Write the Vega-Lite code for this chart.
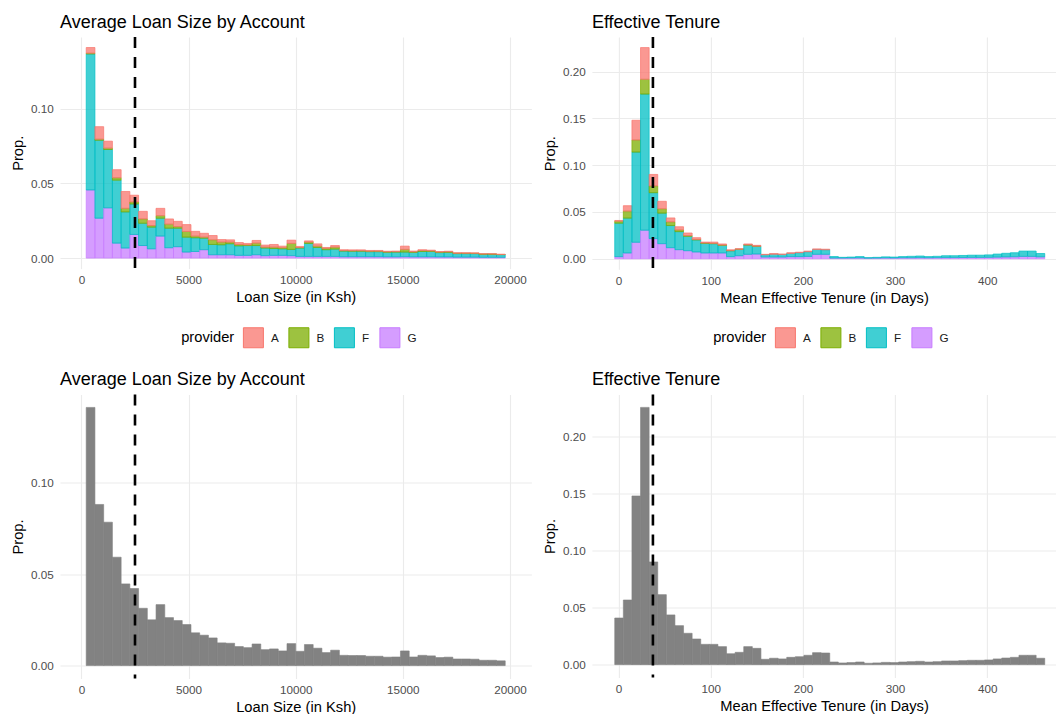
{
  "$schema": "https://vega.github.io/schema/vega-lite/v6.json",
  "padding": {"left": 10, "top": 13, "right": 0, "bottom": 0},
  "background": "white",
  "datasets": {
    "loan": [
      {"lo":200,"hi":607,"provider":"G","prop":0.0456},{"lo":200,"hi":607,"provider":"F","prop":0.0911},{"lo":200,"hi":607,"provider":"B","prop":0.0005},{"lo":200,"hi":607,"provider":"A","prop":0.0038},
      {"lo":607,"hi":1015,"provider":"G","prop":0.0267},{"lo":607,"hi":1015,"provider":"F","prop":0.0522},{"lo":607,"hi":1015,"provider":"B","prop":0.0007},{"lo":607,"hi":1015,"provider":"A","prop":0.0084},
      {"lo":1015,"hi":1422,"provider":"G","prop":0.0336},{"lo":1015,"hi":1422,"provider":"F","prop":0.0391},{"lo":1015,"hi":1422,"provider":"B","prop":0.0009},{"lo":1015,"hi":1422,"provider":"A","prop":0.0047},
      {"lo":1422,"hi":1830,"provider":"G","prop":0.0100},{"lo":1422,"hi":1830,"provider":"F","prop":0.0422},{"lo":1422,"hi":1830,"provider":"B","prop":0.0016},{"lo":1422,"hi":1830,"provider":"A","prop":0.0054},
      {"lo":1830,"hi":2237,"provider":"G","prop":0.0067},{"lo":1830,"hi":2237,"provider":"F","prop":0.0242},{"lo":1830,"hi":2237,"provider":"B","prop":0.0024},{"lo":1830,"hi":2237,"provider":"A","prop":0.0113},
      {"lo":2237,"hi":2644,"provider":"G","prop":0.0158},{"lo":2237,"hi":2644,"provider":"F","prop":0.0204},{"lo":2237,"hi":2644,"provider":"B","prop":0.0014},{"lo":2237,"hi":2644,"provider":"A","prop":0.0045},
      {"lo":2644,"hi":3052,"provider":"G","prop":0.0084},{"lo":2644,"hi":3052,"provider":"F","prop":0.0149},{"lo":2644,"hi":3052,"provider":"B","prop":0.0029},{"lo":2644,"hi":3052,"provider":"A","prop":0.0051},
      {"lo":3052,"hi":3459,"provider":"G","prop":0.0062},{"lo":3052,"hi":3459,"provider":"F","prop":0.0145},{"lo":3052,"hi":3459,"provider":"B","prop":0.0011},{"lo":3052,"hi":3459,"provider":"A","prop":0.0032},
      {"lo":3459,"hi":3867,"provider":"G","prop":0.0147},{"lo":3459,"hi":3867,"provider":"F","prop":0.0120},{"lo":3459,"hi":3867,"provider":"B","prop":0.0017},{"lo":3459,"hi":3867,"provider":"A","prop":0.0049},
      {"lo":3867,"hi":4274,"provider":"G","prop":0.0069},{"lo":3867,"hi":4274,"provider":"F","prop":0.0131},{"lo":3867,"hi":4274,"provider":"B","prop":0.0027},{"lo":3867,"hi":4274,"provider":"A","prop":0.0035},
      {"lo":4274,"hi":4681,"provider":"G","prop":0.0076},{"lo":4274,"hi":4681,"provider":"F","prop":0.0124},{"lo":4274,"hi":4681,"provider":"B","prop":0.0011},{"lo":4274,"hi":4681,"provider":"A","prop":0.0035},
      {"lo":4681,"hi":5089,"provider":"G","prop":0.0040},{"lo":4681,"hi":5089,"provider":"F","prop":0.0100},{"lo":4681,"hi":5089,"provider":"B","prop":0.0038},{"lo":4681,"hi":5089,"provider":"A","prop":0.0046},
      {"lo":5089,"hi":5496,"provider":"G","prop":0.0044},{"lo":5089,"hi":5496,"provider":"F","prop":0.0092},{"lo":5089,"hi":5496,"provider":"B","prop":0.0011},{"lo":5089,"hi":5496,"provider":"A","prop":0.0032},
      {"lo":5496,"hi":5904,"provider":"G","prop":0.0056},{"lo":5496,"hi":5904,"provider":"F","prop":0.0077},{"lo":5496,"hi":5904,"provider":"B","prop":0.0007},{"lo":5496,"hi":5904,"provider":"A","prop":0.0026},
      {"lo":5904,"hi":6311,"provider":"G","prop":0.0022},{"lo":5904,"hi":6311,"provider":"F","prop":0.0069},{"lo":5904,"hi":6311,"provider":"B","prop":0.0031},{"lo":5904,"hi":6311,"provider":"A","prop":0.0029},
      {"lo":6311,"hi":6718,"provider":"G","prop":0.0022},{"lo":6311,"hi":6718,"provider":"F","prop":0.0067},{"lo":6311,"hi":6718,"provider":"B","prop":0.0018},{"lo":6311,"hi":6718,"provider":"A","prop":0.0017},
      {"lo":6718,"hi":7126,"provider":"G","prop":0.0022},{"lo":6718,"hi":7126,"provider":"F","prop":0.0074},{"lo":6718,"hi":7126,"provider":"B","prop":0.0011},{"lo":6718,"hi":7126,"provider":"A","prop":0.0015},
      {"lo":7126,"hi":7533,"provider":"G","prop":0.0018},{"lo":7126,"hi":7533,"provider":"F","prop":0.0064},{"lo":7126,"hi":7533,"provider":"B","prop":0.0009},{"lo":7126,"hi":7533,"provider":"A","prop":0.0013},
      {"lo":7533,"hi":7941,"provider":"G","prop":0.0018},{"lo":7533,"hi":7941,"provider":"F","prop":0.0066},{"lo":7533,"hi":7941,"provider":"B","prop":0.0004},{"lo":7533,"hi":7941,"provider":"A","prop":0.0010},
      {"lo":7941,"hi":8348,"provider":"G","prop":0.0022},{"lo":7941,"hi":8348,"provider":"F","prop":0.0062},{"lo":7941,"hi":8348,"provider":"B","prop":0.0016},{"lo":7941,"hi":8348,"provider":"A","prop":0.0018},
      {"lo":8348,"hi":8755,"provider":"G","prop":0.0016},{"lo":8348,"hi":8755,"provider":"F","prop":0.0051},{"lo":8348,"hi":8755,"provider":"B","prop":0.0006},{"lo":8348,"hi":8755,"provider":"A","prop":0.0014},
      {"lo":8755,"hi":9163,"provider":"G","prop":0.0018},{"lo":8755,"hi":9163,"provider":"F","prop":0.0046},{"lo":8755,"hi":9163,"provider":"B","prop":0.0009},{"lo":8755,"hi":9163,"provider":"A","prop":0.0018},
      {"lo":9163,"hi":9570,"provider":"G","prop":0.0018},{"lo":9163,"hi":9570,"provider":"F","prop":0.0044},{"lo":9163,"hi":9570,"provider":"B","prop":0.0007},{"lo":9163,"hi":9570,"provider":"A","prop":0.0011},
      {"lo":9570,"hi":9978,"provider":"G","prop":0.0016},{"lo":9570,"hi":9978,"provider":"F","prop":0.0042},{"lo":9570,"hi":9978,"provider":"B","prop":0.0040},{"lo":9570,"hi":9978,"provider":"A","prop":0.0022},
      {"lo":9978,"hi":10385,"provider":"G","prop":0.0011},{"lo":9978,"hi":10385,"provider":"F","prop":0.0056},{"lo":9978,"hi":10385,"provider":"B","prop":0.0004},{"lo":9978,"hi":10385,"provider":"A","prop":0.0007},
      {"lo":10385,"hi":10792,"provider":"G","prop":0.0011},{"lo":10385,"hi":10792,"provider":"F","prop":0.0087},{"lo":10385,"hi":10792,"provider":"B","prop":0.0009},{"lo":10385,"hi":10792,"provider":"A","prop":0.0008},
      {"lo":10792,"hi":11200,"provider":"G","prop":0.0011},{"lo":10792,"hi":11200,"provider":"F","prop":0.0060},{"lo":10792,"hi":11200,"provider":"B","prop":0.0009},{"lo":10792,"hi":11200,"provider":"A","prop":0.0015},
      {"lo":11200,"hi":11607,"provider":"G","prop":0.0011},{"lo":11200,"hi":11607,"provider":"F","prop":0.0045},{"lo":11200,"hi":11607,"provider":"B","prop":0.0009},{"lo":11200,"hi":11607,"provider":"A","prop":0.0006},
      {"lo":11607,"hi":12015,"provider":"G","prop":0.0011},{"lo":11607,"hi":12015,"provider":"F","prop":0.0049},{"lo":11607,"hi":12015,"provider":"B","prop":0.0013},{"lo":11607,"hi":12015,"provider":"A","prop":0.0011},
      {"lo":12015,"hi":12422,"provider":"G","prop":0.0009},{"lo":12015,"hi":12422,"provider":"F","prop":0.0038},{"lo":12015,"hi":12422,"provider":"B","prop":0.0003},{"lo":12015,"hi":12422,"provider":"A","prop":0.0006},
      {"lo":12422,"hi":12829,"provider":"G","prop":0.0009},{"lo":12422,"hi":12829,"provider":"F","prop":0.0037},{"lo":12422,"hi":12829,"provider":"B","prop":0.0003},{"lo":12422,"hi":12829,"provider":"A","prop":0.0006},
      {"lo":12829,"hi":13237,"provider":"G","prop":0.0009},{"lo":12829,"hi":13237,"provider":"F","prop":0.0037},{"lo":12829,"hi":13237,"provider":"B","prop":0.0003},{"lo":12829,"hi":13237,"provider":"A","prop":0.0006},
      {"lo":13237,"hi":13644,"provider":"G","prop":0.0009},{"lo":13237,"hi":13644,"provider":"F","prop":0.0034},{"lo":13237,"hi":13644,"provider":"B","prop":0.0003},{"lo":13237,"hi":13644,"provider":"A","prop":0.0005},
      {"lo":13644,"hi":14052,"provider":"G","prop":0.0009},{"lo":13644,"hi":14052,"provider":"F","prop":0.0034},{"lo":13644,"hi":14052,"provider":"B","prop":0.0003},{"lo":13644,"hi":14052,"provider":"A","prop":0.0005},
      {"lo":14052,"hi":14459,"provider":"G","prop":0.0008},{"lo":14052,"hi":14459,"provider":"F","prop":0.0031},{"lo":14052,"hi":14459,"provider":"B","prop":0.0003},{"lo":14052,"hi":14459,"provider":"A","prop":0.0004},
      {"lo":14459,"hi":14866,"provider":"G","prop":0.0008},{"lo":14459,"hi":14866,"provider":"F","prop":0.0032},{"lo":14459,"hi":14866,"provider":"B","prop":0.0003},{"lo":14459,"hi":14866,"provider":"A","prop":0.0004},
      {"lo":14866,"hi":15274,"provider":"G","prop":0.0009},{"lo":14866,"hi":15274,"provider":"F","prop":0.0031},{"lo":14866,"hi":15274,"provider":"B","prop":0.0018},{"lo":14866,"hi":15274,"provider":"A","prop":0.0022},
      {"lo":15274,"hi":15681,"provider":"G","prop":0.0008},{"lo":15274,"hi":15681,"provider":"F","prop":0.0030},{"lo":15274,"hi":15681,"provider":"B","prop":0.0004},{"lo":15274,"hi":15681,"provider":"A","prop":0.0005},
      {"lo":15681,"hi":16089,"provider":"G","prop":0.0008},{"lo":15681,"hi":16089,"provider":"F","prop":0.0036},{"lo":15681,"hi":16089,"provider":"B","prop":0.0006},{"lo":15681,"hi":16089,"provider":"A","prop":0.0006},
      {"lo":16089,"hi":16496,"provider":"G","prop":0.0008},{"lo":16089,"hi":16496,"provider":"F","prop":0.0036},{"lo":16089,"hi":16496,"provider":"B","prop":0.0004},{"lo":16089,"hi":16496,"provider":"A","prop":0.0005},
      {"lo":16496,"hi":16903,"provider":"G","prop":0.0007},{"lo":16496,"hi":16903,"provider":"F","prop":0.0030},{"lo":16496,"hi":16903,"provider":"B","prop":0.0003},{"lo":16496,"hi":16903,"provider":"A","prop":0.0004},
      {"lo":16903,"hi":17311,"provider":"G","prop":0.0007},{"lo":16903,"hi":17311,"provider":"F","prop":0.0031},{"lo":16903,"hi":17311,"provider":"B","prop":0.0004},{"lo":16903,"hi":17311,"provider":"A","prop":0.0004},
      {"lo":17311,"hi":17718,"provider":"G","prop":0.0006},{"lo":17311,"hi":17718,"provider":"F","prop":0.0024},{"lo":17311,"hi":17718,"provider":"B","prop":0.0002},{"lo":17311,"hi":17718,"provider":"A","prop":0.0004},
      {"lo":17718,"hi":18126,"provider":"G","prop":0.0006},{"lo":17718,"hi":18126,"provider":"F","prop":0.0024},{"lo":17718,"hi":18126,"provider":"B","prop":0.0002},{"lo":17718,"hi":18126,"provider":"A","prop":0.0004},
      {"lo":18126,"hi":18533,"provider":"G","prop":0.0006},{"lo":18126,"hi":18533,"provider":"F","prop":0.0024},{"lo":18126,"hi":18533,"provider":"B","prop":0.0002},{"lo":18126,"hi":18533,"provider":"A","prop":0.0003},
      {"lo":18533,"hi":18940,"provider":"G","prop":0.0005},{"lo":18533,"hi":18940,"provider":"F","prop":0.0020},{"lo":18533,"hi":18940,"provider":"B","prop":0.0002},{"lo":18533,"hi":18940,"provider":"A","prop":0.0002},
      {"lo":18940,"hi":19348,"provider":"G","prop":0.0005},{"lo":18940,"hi":19348,"provider":"F","prop":0.0020},{"lo":18940,"hi":19348,"provider":"B","prop":0.0002},{"lo":18940,"hi":19348,"provider":"A","prop":0.0002},
      {"lo":19348,"hi":19755,"provider":"G","prop":0.0005},{"lo":19348,"hi":19755,"provider":"F","prop":0.0018},{"lo":19348,"hi":19755,"provider":"B","prop":0.0001},{"lo":19348,"hi":19755,"provider":"A","prop":0.0002}
    ],
    "tenure": [
      {"lo":-4.67,"hi":4.66,"provider":"G","prop":0.0022},{"lo":-4.67,"hi":4.66,"provider":"F","prop":0.0358},{"lo":-4.67,"hi":4.66,"provider":"B","prop":0.0021},{"lo":-4.67,"hi":4.66,"provider":"A","prop":0.0008},
      {"lo":4.66,"hi":13.99,"provider":"G","prop":0.0061},{"lo":4.66,"hi":13.99,"provider":"F","prop":0.0373},{"lo":4.66,"hi":13.99,"provider":"B","prop":0.0075},{"lo":4.66,"hi":13.99,"provider":"A","prop":0.0058},
      {"lo":13.99,"hi":23.32,"provider":"G","prop":0.0176},{"lo":13.99,"hi":23.32,"provider":"F","prop":0.0964},{"lo":13.99,"hi":23.32,"provider":"B","prop":0.0129},{"lo":13.99,"hi":23.32,"provider":"A","prop":0.0211},
      {"lo":23.32,"hi":32.65,"provider":"G","prop":0.0305},{"lo":23.32,"hi":32.65,"provider":"F","prop":0.1455},{"lo":23.32,"hi":32.65,"provider":"B","prop":0.0158},{"lo":23.32,"hi":32.65,"provider":"A","prop":0.0339},
      {"lo":32.65,"hi":41.98,"provider":"G","prop":0.0215},{"lo":32.65,"hi":41.98,"provider":"F","prop":0.0491},{"lo":32.65,"hi":41.98,"provider":"B","prop":0.0072},{"lo":32.65,"hi":41.98,"provider":"A","prop":0.0123},
      {"lo":41.98,"hi":51.31,"provider":"G","prop":0.0161},{"lo":41.98,"hi":51.31,"provider":"F","prop":0.0326},{"lo":41.98,"hi":51.31,"provider":"B","prop":0.0047},{"lo":41.98,"hi":51.31,"provider":"A","prop":0.0080},
      {"lo":51.31,"hi":60.64,"provider":"G","prop":0.0118},{"lo":51.31,"hi":60.64,"provider":"F","prop":0.0237},{"lo":51.31,"hi":60.64,"provider":"B","prop":0.0039},{"lo":51.31,"hi":60.64,"provider":"A","prop":0.0042},
      {"lo":60.64,"hi":69.97,"provider":"G","prop":0.0097},{"lo":60.64,"hi":69.97,"provider":"F","prop":0.0193},{"lo":60.64,"hi":69.97,"provider":"B","prop":0.0018},{"lo":60.64,"hi":69.97,"provider":"A","prop":0.0034},
      {"lo":69.97,"hi":79.3,"provider":"G","prop":0.0086},{"lo":69.97,"hi":79.3,"provider":"F","prop":0.0154},{"lo":69.97,"hi":79.3,"provider":"B","prop":0.0007},{"lo":69.97,"hi":79.3,"provider":"A","prop":0.0028},
      {"lo":79.3,"hi":88.63,"provider":"G","prop":0.0072},{"lo":79.3,"hi":88.63,"provider":"F","prop":0.0129},{"lo":79.3,"hi":88.63,"provider":"B","prop":0.0005},{"lo":79.3,"hi":88.63,"provider":"A","prop":0.0019},
      {"lo":88.63,"hi":97.96,"provider":"G","prop":0.0061},{"lo":88.63,"hi":97.96,"provider":"F","prop":0.0104},{"lo":88.63,"hi":97.96,"provider":"B","prop":0.0003},{"lo":88.63,"hi":97.96,"provider":"A","prop":0.0010},
      {"lo":97.96,"hi":107.29,"provider":"G","prop":0.0061},{"lo":97.96,"hi":107.29,"provider":"F","prop":0.0100},{"lo":97.96,"hi":107.29,"provider":"B","prop":0.0003},{"lo":97.96,"hi":107.29,"provider":"A","prop":0.0014},
      {"lo":107.29,"hi":116.62,"provider":"G","prop":0.0061},{"lo":107.29,"hi":116.62,"provider":"F","prop":0.0082},{"lo":107.29,"hi":116.62,"provider":"B","prop":0.0003},{"lo":107.29,"hi":116.62,"provider":"A","prop":0.0012},
      {"lo":116.62,"hi":125.95,"provider":"G","prop":0.0022},{"lo":116.62,"hi":125.95,"provider":"F","prop":0.0064},{"lo":116.62,"hi":125.95,"provider":"B","prop":0.0001},{"lo":116.62,"hi":125.95,"provider":"A","prop":0.0009},
      {"lo":125.95,"hi":135.28,"provider":"G","prop":0.0032},{"lo":125.95,"hi":135.28,"provider":"F","prop":0.0068},{"lo":125.95,"hi":135.28,"provider":"B","prop":0.0001},{"lo":125.95,"hi":135.28,"provider":"A","prop":0.0007},
      {"lo":135.28,"hi":144.61,"provider":"G","prop":0.0047},{"lo":135.28,"hi":144.61,"provider":"F","prop":0.0100},{"lo":135.28,"hi":144.61,"provider":"B","prop":0.0001},{"lo":135.28,"hi":144.61,"provider":"A","prop":0.0010},
      {"lo":144.61,"hi":153.94,"provider":"G","prop":0.0050},{"lo":144.61,"hi":153.94,"provider":"F","prop":0.0083},{"lo":144.61,"hi":153.94,"provider":"B","prop":0.0001},{"lo":144.61,"hi":153.94,"provider":"A","prop":0.0009},
      {"lo":153.94,"hi":163.27,"provider":"G","prop":0.0018},{"lo":153.94,"hi":163.27,"provider":"F","prop":0.0025},{"lo":153.94,"hi":163.27,"provider":"A","prop":0.0004},
      {"lo":163.27,"hi":172.6,"provider":"G","prop":0.0018},{"lo":163.27,"hi":172.6,"provider":"F","prop":0.0029},{"lo":163.27,"hi":172.6,"provider":"A","prop":0.0009},
      {"lo":172.6,"hi":181.93,"provider":"G","prop":0.0018},{"lo":172.6,"hi":181.93,"provider":"F","prop":0.0028},{"lo":172.6,"hi":181.93,"provider":"A","prop":0.0004},
      {"lo":181.93,"hi":191.26,"provider":"G","prop":0.0022},{"lo":181.93,"hi":191.26,"provider":"F","prop":0.0035},{"lo":181.93,"hi":191.26,"provider":"A","prop":0.0007},
      {"lo":191.26,"hi":200.59,"provider":"G","prop":0.0022},{"lo":191.26,"hi":200.59,"provider":"F","prop":0.0043},{"lo":191.26,"hi":200.59,"provider":"A","prop":0.0005},
      {"lo":200.59,"hi":209.92,"provider":"G","prop":0.0025},{"lo":200.59,"hi":209.92,"provider":"F","prop":0.0050},{"lo":200.59,"hi":209.92,"provider":"A","prop":0.0007},
      {"lo":209.92,"hi":219.25,"provider":"G","prop":0.0047},{"lo":209.92,"hi":219.25,"provider":"F","prop":0.0052},{"lo":209.92,"hi":219.25,"provider":"A","prop":0.0006},
      {"lo":219.25,"hi":228.58,"provider":"G","prop":0.0047},{"lo":219.25,"hi":228.58,"provider":"F","prop":0.0049},{"lo":219.25,"hi":228.58,"provider":"A","prop":0.0006},
      {"lo":228.58,"hi":237.91,"provider":"G","prop":0.0007},{"lo":228.58,"hi":237.91,"provider":"F","prop":0.0016},
      {"lo":237.91,"hi":247.24,"provider":"G","prop":0.0007},{"lo":237.91,"hi":247.24,"provider":"F","prop":0.0008},
      {"lo":247.24,"hi":256.57,"provider":"G","prop":0.0008},{"lo":247.24,"hi":256.57,"provider":"F","prop":0.0010},
      {"lo":256.57,"hi":265.9,"provider":"G","prop":0.0009},{"lo":256.57,"hi":265.9,"provider":"F","prop":0.0014},
      {"lo":265.9,"hi":275.23,"provider":"G","prop":0.0006},{"lo":265.9,"hi":275.23,"provider":"F","prop":0.0006},
      {"lo":275.23,"hi":284.56,"provider":"G","prop":0.0007},{"lo":275.23,"hi":284.56,"provider":"F","prop":0.0008},
      {"lo":284.56,"hi":293.89,"provider":"G","prop":0.0009},{"lo":284.56,"hi":293.89,"provider":"F","prop":0.0011},
      {"lo":293.89,"hi":303.22,"provider":"G","prop":0.0008},{"lo":293.89,"hi":303.22,"provider":"F","prop":0.0010},
      {"lo":303.22,"hi":312.55,"provider":"G","prop":0.0010},{"lo":303.22,"hi":312.55,"provider":"F","prop":0.0013},
      {"lo":312.55,"hi":321.88,"provider":"G","prop":0.0010},{"lo":312.55,"hi":321.88,"provider":"F","prop":0.0016},
      {"lo":321.88,"hi":331.21,"provider":"G","prop":0.0011},{"lo":321.88,"hi":331.21,"provider":"F","prop":0.0018},
      {"lo":331.21,"hi":340.54,"provider":"G","prop":0.0010},{"lo":331.21,"hi":340.54,"provider":"F","prop":0.0013},
      {"lo":340.54,"hi":349.87,"provider":"G","prop":0.0011},{"lo":340.54,"hi":349.87,"provider":"F","prop":0.0015},
      {"lo":349.87,"hi":359.2,"provider":"G","prop":0.0012},{"lo":349.87,"hi":359.2,"provider":"F","prop":0.0020},
      {"lo":359.2,"hi":368.53,"provider":"G","prop":0.0012},{"lo":359.2,"hi":368.53,"provider":"F","prop":0.0020},
      {"lo":368.53,"hi":377.86,"provider":"G","prop":0.0013},{"lo":368.53,"hi":377.86,"provider":"F","prop":0.0022},
      {"lo":377.86,"hi":387.19,"provider":"G","prop":0.0014},{"lo":377.86,"hi":387.19,"provider":"F","prop":0.0024},
      {"lo":387.19,"hi":396.52,"provider":"G","prop":0.0014},{"lo":387.19,"hi":396.52,"provider":"F","prop":0.0024},
      {"lo":396.52,"hi":405.85,"provider":"G","prop":0.0015},{"lo":396.52,"hi":405.85,"provider":"F","prop":0.0026},
      {"lo":405.85,"hi":415.18,"provider":"G","prop":0.0017},{"lo":405.85,"hi":415.18,"provider":"F","prop":0.0033},
      {"lo":415.18,"hi":424.51,"provider":"G","prop":0.0019},{"lo":415.18,"hi":424.51,"provider":"F","prop":0.0039},
      {"lo":424.51,"hi":433.84,"provider":"G","prop":0.0021},{"lo":424.51,"hi":433.84,"provider":"F","prop":0.0043},
      {"lo":433.84,"hi":443.17,"provider":"G","prop":0.0025},{"lo":433.84,"hi":443.17,"provider":"F","prop":0.0057},
      {"lo":443.17,"hi":452.5,"provider":"G","prop":0.0025},{"lo":443.17,"hi":452.5,"provider":"F","prop":0.0057},
      {"lo":452.5,"hi":461.83,"provider":"G","prop":0.0020},{"lo":452.5,"hi":461.83,"provider":"F","prop":0.0036}
    ],
    "loanMean": [{"mean": 2500}],
    "tenureMean": [{"mean": 37.3}]
  },
  "config": {
    "font": "Liberation Sans",
    "view": {"stroke": null},
    "axis": {
      "grid": true, "gridColor": "#EBEBEB", "gridWidth": 1.1,
      "domain": false, "ticks": false, "tickSize": 0,
      "labelColor": "#4D4D4D", "labelFontSize": 11.7, "labelFont": "Liberation Sans",
      "titleFontSize": 14.7, "titleColor": "#000000", "titleFontWeight": "normal", "titleFont": "Liberation Sans"
    },
    "axisX": {"labelPadding": 6, "titlePadding": 3, "labelColor": "#4D4D4D"},
    "axisY": {"labelPadding": 6.7, "titlePadding": 5, "labelColor": "#4D4D4D"},
    "title": {"fontSize": 18, "fontWeight": "normal", "anchor": "start", "frame": "group", "color": "#000000", "offset": 4, "baseline": "alphabetic", "font": "Liberation Sans"}
  },
  "spacing": 20.5,
  "vconcat": [
    {
      "spacing": 9.9,
      "resolve": {"scale": {"fill": "independent", "stroke": "independent"}, "legend": {"fill": "independent", "stroke": "independent"}},
      "hconcat": [
        {
          "title": "Average Loan Size by Account",
          "width": 471.4, "height": 231.6,
          "layer": [
            {
              "data": {"name": "loan"},
              "mark": {"type": "bar", "fillOpacity": 0.75, "strokeWidth": 0.7, "binSpacing": 0},
              "encoding": {
                "x": {"field": "lo", "bin": "binned", "type": "quantitative", "title": "Loan Size (in Ksh)", "scale": {"domain": [-1000, 21000], "nice": false, "zero": false}, "axis": {"values": [0, 5000, 10000, 15000, 20000], "format": "d"}},
                "x2": {"field": "hi"},
                "y": {"field": "prop", "type": "quantitative", "stack": "zero", "title": "Prop.", "scale": {"domain": [-0.00705, 0.14805], "nice": false, "zero": false}, "axis": {"values": [0, 0.05, 0.1], "format": ".2f"}},
                "fill": {"field": "provider", "type": "nominal", "scale": {"domain": ["A", "B", "F", "G"], "range": ["#F8766D", "#7CAE00", "#00BFC4", "#C77CFF"]},
                  "legend": {"orient": "none", "legendX": 121.2, "legendY": 290, "direction": "horizontal", "title": "provider", "titleOrient": "left", "titleAngle": 0, "titleBaseline": "middle", "titleFontSize": 14.7, "titleFontWeight": "normal", "titleColor": "#000000", "titlePadding": 7.7, "labelFontSize": 11.7, "labelColor": "#1A1A1A", "labelOffset": 7, "columnPadding": 7.5, "symbolType": "square", "symbolSize": 400, "symbolStrokeWidth": 1, "padding": 0, "encode": {"symbols": {"update": {"fillOpacity": {"value": 0.75}}}}}},
                "stroke": {"field": "provider", "type": "nominal", "scale": {"domain": ["A", "B", "F", "G"], "range": ["#F8766D", "#7CAE00", "#00BFC4", "#C77CFF"]},
                  "legend": {"orient": "none", "legendX": 121.2, "legendY": 290, "direction": "horizontal", "title": "provider", "titleOrient": "left", "titleAngle": 0, "titleBaseline": "middle", "titleFontSize": 14.7, "titleFontWeight": "normal", "titleColor": "#000000", "titlePadding": 7.7, "labelFontSize": 11.7, "labelColor": "#1A1A1A", "labelOffset": 7, "columnPadding": 7.5, "symbolType": "square", "symbolSize": 400, "symbolStrokeWidth": 1, "padding": 0, "encode": {"symbols": {"update": {"fillOpacity": {"value": 0.75}}}}}},
                "order": {"field": "provider", "sort": "descending"}
              }
            },
            {
              "data": {"name": "loanMean"},
              "mark": {"type": "rule", "color": "#000000", "strokeWidth": 2.6, "strokeDash": [11, 9]},
              "encoding": {"x": {"field": "mean", "type": "quantitative", "title": "Loan Size (in Ksh)"}}
            }
          ]
        },
        {
          "title": "Effective Tenure",
          "width": 464.3, "height": 232.3,
          "layer": [
            {
              "data": {"name": "tenure"},
              "mark": {"type": "bar", "fillOpacity": 0.75, "strokeWidth": 0.7, "binSpacing": 0},
              "encoding": {
                "x": {"field": "lo", "bin": "binned", "type": "quantitative", "title": "Mean Effective Tenure (in Days)", "scale": {"domain": [-28.9, 474.8], "nice": false, "zero": false}, "axis": {"values": [0, 100, 200, 300, 400], "format": "d"}},
                "x2": {"field": "hi"},
                "y": {"field": "prop", "type": "quantitative", "stack": "zero", "title": "Prop.", "scale": {"domain": [-0.01129, 0.2370], "nice": false, "zero": false}, "axis": {"values": [0, 0.05, 0.1, 0.15, 0.2], "format": ".2f"}},
                "fill": {"field": "provider", "type": "nominal", "scale": {"domain": ["A", "B", "F", "G"], "range": ["#F8766D", "#7CAE00", "#00BFC4", "#C77CFF"]},
                  "legend": {"orient": "none", "legendX": 121.3, "legendY": 290, "direction": "horizontal", "title": "provider", "titleOrient": "left", "titleAngle": 0, "titleBaseline": "middle", "titleFontSize": 14.7, "titleFontWeight": "normal", "titleColor": "#000000", "titlePadding": 7.7, "labelFontSize": 11.7, "labelColor": "#1A1A1A", "labelOffset": 7, "columnPadding": 7.5, "symbolType": "square", "symbolSize": 400, "symbolStrokeWidth": 1, "padding": 0, "encode": {"symbols": {"update": {"fillOpacity": {"value": 0.75}}}}}},
                "stroke": {"field": "provider", "type": "nominal", "scale": {"domain": ["A", "B", "F", "G"], "range": ["#F8766D", "#7CAE00", "#00BFC4", "#C77CFF"]},
                  "legend": {"orient": "none", "legendX": 121.3, "legendY": 290, "direction": "horizontal", "title": "provider", "titleOrient": "left", "titleAngle": 0, "titleBaseline": "middle", "titleFontSize": 14.7, "titleFontWeight": "normal", "titleColor": "#000000", "titlePadding": 7.7, "labelFontSize": 11.7, "labelColor": "#1A1A1A", "labelOffset": 7, "columnPadding": 7.5, "symbolType": "square", "symbolSize": 400, "symbolStrokeWidth": 1, "padding": 0, "encode": {"symbols": {"update": {"fillOpacity": {"value": 0.75}}}}}},
                "order": {"field": "provider", "sort": "descending"}
              }
            },
            {
              "data": {"name": "tenureMean"},
              "mark": {"type": "rule", "color": "#000000", "strokeWidth": 2.6, "strokeDash": [11, 9]},
              "encoding": {"x": {"field": "mean", "type": "quantitative", "title": "Mean Effective Tenure (in Days)"}}
            }
          ]
        }
      ]
    },
    {
      "spacing": 9.9,
      "hconcat": [
        {
          "title": "Average Loan Size by Account",
          "width": 471.4, "height": 284,
          "layer": [
            {
              "data": {"name": "loan"},
              "mark": {"type": "bar", "fill": "#828282", "stroke": "#828282", "strokeWidth": 0.6, "binSpacing": 0},
              "encoding": {
                "x": {"field": "lo", "bin": "binned", "type": "quantitative", "title": "Loan Size (in Ksh)", "scale": {"domain": [-1000, 21000], "nice": false, "zero": false}, "axis": {"values": [0, 5000, 10000, 15000, 20000], "format": "d"}},
                "x2": {"field": "hi"},
                "y": {"aggregate": "sum", "field": "prop", "type": "quantitative", "title": "Prop.", "scale": {"domain": [-0.00705, 0.14805], "nice": false, "zero": false}, "axis": {"values": [0, 0.05, 0.1], "format": ".2f"}}
              }
            },
            {
              "data": {"name": "loanMean"},
              "mark": {"type": "rule", "color": "#000000", "strokeWidth": 2.6, "strokeDash": [11, 9]},
              "encoding": {"x": {"field": "mean", "type": "quantitative", "title": "Loan Size (in Ksh)"}}
            }
          ]
        },
        {
          "title": "Effective Tenure",
          "width": 464.3, "height": 283,
          "layer": [
            {
              "data": {"name": "tenure"},
              "mark": {"type": "bar", "fill": "#828282", "stroke": "#828282", "strokeWidth": 0.6, "binSpacing": 0},
              "encoding": {
                "x": {"field": "lo", "bin": "binned", "type": "quantitative", "title": "Mean Effective Tenure (in Days)", "scale": {"domain": [-28.9, 474.8], "nice": false, "zero": false}, "axis": {"values": [0, 100, 200, 300, 400], "format": "d"}},
                "x2": {"field": "hi"},
                "y": {"aggregate": "sum", "field": "prop", "type": "quantitative", "title": "Prop.", "scale": {"domain": [-0.01129, 0.2370], "nice": false, "zero": false}, "axis": {"values": [0, 0.05, 0.1, 0.15, 0.2], "format": ".2f"}}
              }
            },
            {
              "data": {"name": "tenureMean"},
              "mark": {"type": "rule", "color": "#000000", "strokeWidth": 2.6, "strokeDash": [11, 9]},
              "encoding": {"x": {"field": "mean", "type": "quantitative", "title": "Mean Effective Tenure (in Days)"}}
            }
          ]
        }
      ]
    }
  ]
}
